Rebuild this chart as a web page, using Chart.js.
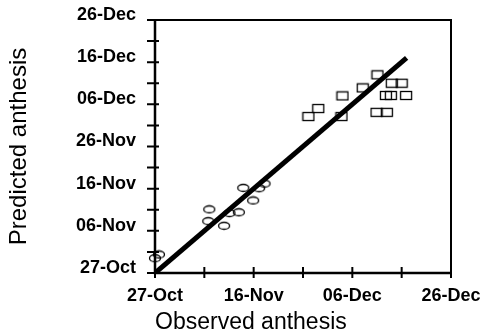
<!DOCTYPE html>
<html>
<head>
<meta charset="utf-8">
<script src="https://cdn.jsdelivr.net/npm/chart.js@4.4.0/dist/chart.umd.min.js"></script>
<style>
  html, body { margin: 0; padding: 0; background: #fff; }
  #wrap { width: 480px; height: 334px; }
</style>
</head>
<body>
<div id="wrap"><canvas id="myChart"></canvas></div>
<script>
// values are days counted from 27-Oct
const xTickLabels = ['27-Oct', '16-Nov', '06-Dec', '26-Dec'];
const yTickLabels = ['27-Oct', '06-Nov', '16-Nov', '26-Nov', '06-Dec', '16-Dec', '26-Dec'];

const circleObserved  = [0.0, 0.8, 11.0, 10.8, 14.0, 15.1, 17.0, 17.9, 19.9, 21.1, 22.2];
const circlePredicted = [3.5, 4.4, 15.1, 12.3, 11.2, 14.2, 14.4, 20.2, 17.2, 20.1, 21.2];

const squareObserved  = [31.1, 33.1, 38.0, 37.8, 42.1, 45.1, 44.9, 47.0, 48.0, 50.0, 46.8, 47.8, 50.9];
const squarePredicted = [37.1, 39.0, 42.0, 37.1, 43.9, 47.0, 38.1, 38.1, 45.0, 45.0, 42.1, 42.1, 42.1];

const lineObserved  = [0, 51];
const linePredicted = [0, 51];

function toPoints(xs, ys) {
    return xs.map((v, i) => ({ x: v, y: ys[i] }));
}

// open markers: ellipse and rectangle
function makeMarker(w, h, shape) {
    const c = document.createElement('canvas');
    c.width = w + 3;
    c.height = h + 3;
    const g = c.getContext('2d');
    g.strokeStyle = '#000';
    g.lineWidth = 1.3;
    if (shape === 'ellipse') {
        g.beginPath();
        g.ellipse(c.width / 2, c.height / 2, w / 2, h / 2, 0, 0, Math.PI * 2);
        g.stroke();
    } else {
        g.strokeRect(1.5, 1.5, w, h);
    }
    return c;
}
const ellipseMarker = makeMarker(11, 7, 'ellipse');
const rectMarker = makeMarker(11, 8, 'rect');

// box around the plot and ticks that cross the axes
const framePlugin = {
    id: 'frame',
    afterDraw(chart) {
        const { ctx, chartArea: a, scales: { x, y } } = chart;
        ctx.save();
        ctx.strokeStyle = '#000';
        ctx.lineWidth = 2;
        ctx.strokeRect(a.left, a.top, a.right - a.left, a.bottom - a.top);
        ctx.lineWidth = 2.5;
        ctx.beginPath();
        ctx.moveTo(a.left, a.top);
        ctx.lineTo(a.left, a.bottom);
        ctx.lineTo(a.right, a.bottom);
        ctx.stroke();
        ctx.lineWidth = 2;
        ctx.beginPath();
        y.ticks.forEach(t => {
            const py = y.getPixelForValue(t.value);
            ctx.moveTo(a.left - 8, py);
            ctx.lineTo(a.left + 4, py);
        });
        x.ticks.forEach(t => {
            const px = x.getPixelForValue(t.value);
            ctx.moveTo(px, a.bottom - 6);
            ctx.lineTo(px, a.bottom + 5);
        });
        ctx.stroke();
        ctx.restore();
    }
};

const tickFont = { family: 'Liberation Sans', size: 18, weight: 'bold' };

const ctx = document.getElementById('myChart').getContext('2d');
new Chart(ctx, {
    type: 'scatter',
    data: {
        datasets: [
            {
                data: toPoints(lineObserved, linePredicted),
                showLine: true,
                borderColor: '#000',
                borderWidth: 5,
                pointRadius: 0,
                borderCapStyle: 'butt'
            },
            {
                data: toPoints(circleObserved, circlePredicted),
                pointStyle: ellipseMarker,
                clip: false
            },
            {
                data: toPoints(squareObserved, squarePredicted),
                pointStyle: rectMarker,
                clip: false
            }
        ]
    },
    options: {
        responsive: true,
        maintainAspectRatio: false,
        animation: false,
        layout: { padding: { top: 20, right: 29, left: 0, bottom: 0 } },
        plugins: {
            legend: { display: false },
            tooltip: { enabled: false }
        },
        scales: {
            x: {
                type: 'linear',
                min: 0,
                max: 60,
                grid: { display: false, drawTicks: false },
                border: { display: false },
                ticks: {
                    stepSize: 10,
                    autoSkip: false,
                    maxRotation: 0,
                    color: '#000',
                    font: tickFont,
                    padding: 12,
                    callback: v => (v % 20 === 0 ? xTickLabels[v / 20] : '')
                },
                title: {
                    display: true,
                    text: 'Observed anthesis',
                    align: 'start',
                    color: '#000',
                    font: { family: 'Liberation Sans', size: 23, lineHeight: 1 },
                    padding: { top: -1, bottom: 0 }
                },
                afterFit: scale => {
                    scale.height = 61;
                    scale.paddingRight = 0;
                }
            },
            y: {
                type: 'linear',
                min: 0,
                max: 60,
                grid: { display: false, drawTicks: false },
                border: { display: false },
                ticks: {
                    stepSize: 5,
                    autoSkip: false,
                    color: '#000',
                    font: tickFont,
                    padding: 19,
                    labelOffset: -5,
                    callback: v => (v % 10 === 0 ? yTickLabels[v / 10] : '')
                },
                title: {
                    display: true,
                    text: 'Predicted anthesis',
                    color: '#000',
                    font: { family: 'Liberation Sans', size: 24, lineHeight: 1 },
                    padding: { top: 7, bottom: 0 }
                },
                afterFit: scale => {
                    scale.width = 155;
                    scale.paddingTop = 0;
                }
            }
        }
    },
    plugins: [framePlugin]
});
</script>
</body>
</html>
